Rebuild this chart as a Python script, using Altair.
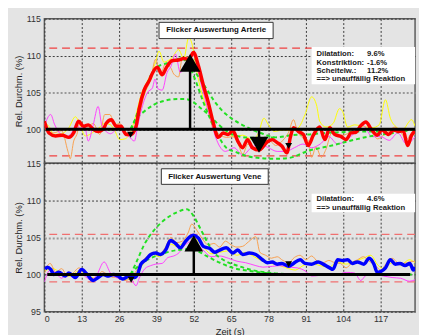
import altair as alt
import pandas as pd

FONT = "Liberation Sans"
BG = "#e4e4e4"

x_ticks = [0, 13, 26, 39, 52, 65, 78, 91, 104, 117]
x_domain = [0, 129]
top_y_domain = [95.4, 115]
top_y_ticks = [100, 105, 110, 115]
bot_y_domain = [95, 115]
bot_y_ticks = [95, 100, 105, 110, 115]

# ---------------- top panel (Arterie) ----------------
top_red = [(0, 101.1), (1.6, 99.5), (3.9, 99.1), (6.2, 99.2), (8.5, 98.9), (10.2, 99.5), (11.9, 101.1),
           (13.6, 100.4), (15.3, 100.6), (17, 100.0), (18.7, 99.7), (20.5, 100.0), (21.5, 100.8),
           (23.3, 101.3), (25, 100.4), (26.7, 100.4), (28.4, 99.3), (30.2, 99.3), (31.9, 100.4),
           (33, 102.8), (34.7, 105.3), (36.5, 106.6), (37.6, 107.6), (39.3, 108.4), (41, 107.4),
           (42.5, 108.4), (44.4, 109.3), (46.7, 109.4), (48.5, 109.6), (50.2, 109.5), (51.9, 110.4),
           (53.6, 108.6), (55.3, 106.0), (57, 103.7), (58.7, 101.0), (60.5, 98.9), (62.2, 99.5),
           (63.9, 99.3), (65.6, 99.8), (67.3, 98.4), (69, 97.5), (70.7, 98.6), (72.4, 97.5),
           (74.7, 97.2), (77.6, 98.3), (79.3, 98.6), (81, 98.2), (82.7, 97.7), (84.4, 96.8),
           (85.6, 98.9), (86.7, 100.2), (88.4, 99.7), (90.1, 99.3), (91.8, 97.8), (93.6, 99.2),
           (95.8, 100.3), (97.6, 98.6), (99.3, 100.2), (101, 99.3), (103.3, 99.0), (105, 98.6),
           (106.7, 99.5), (108.4, 99.6), (110.1, 100.5), (111.9, 101.0), (113.6, 100.1),
           (115.8, 99.2), (117.5, 99.9), (119.8, 99.3), (121.5, 99.9), (123.3, 99.7), (124.9, 99.8),
           (126.4, 97.8), (127.8, 99.2), (129, 99.8)]

top_yellow = [(0, 100.8), (1.6, 100.4), (3.3, 99.3), (6, 99.4), (8.5, 100.2), (10.8, 101.7), (12.5, 100.5),
              (14.2, 99.1), (17, 99.6), (19, 100.2), (21, 100.8), (23, 100.6), (24.5, 99.8), (26.2, 98.6),
              (28, 98.7), (30, 99.6), (31.9, 102), (33.6, 104.6), (35.5, 106.3), (37.6, 107.9),
              (38.7, 109.1), (39.9, 110.6), (41.6, 109.1), (43, 109.3), (44.4, 109.7), (46.7, 110.8),
              (48.5, 109.6), (50.2, 112.4), (51.3, 111.7), (53, 107.9), (54.7, 105), (57, 102.4),
              (58.7, 100), (60.5, 98.9), (63, 99.6), (66, 99.0), (69, 99.2), (72.4, 98.6), (74.5, 99.5),
              (76.4, 101.5), (78, 100.6), (80, 99.7), (83, 99.9), (86, 99.8), (88.4, 100.2), (90.7, 102),
              (93, 104.4), (94.7, 103.3), (95.8, 101.1), (98, 100.3), (100.5, 100.8), (102.7, 102.8),
              (103.8, 102.4), (105.5, 100.3), (108, 100.6), (111, 100.4), (114, 100.2), (116.5, 100.6),
              (118.7, 104), (120.4, 101.5), (122.5, 100.3), (124.5, 99.9), (127.8, 101.3), (129, 100.4)]

top_orange = [(0, 100.5), (3, 99.5), (6, 99.8), (8.2, 97), (9, 96), (10.2, 98.4), (11.3, 99.3), (12.5, 101.1),
              (14.5, 100.1), (17, 100.8), (19.3, 99.3), (21, 102), (22.8, 102), (24.5, 100.6), (26.2, 100.8),
              (28, 99.8), (30.2, 99.3), (32.5, 101), (34.7, 104.6), (37, 106.8), (38.7, 109.5), (40.4, 107.3),
              (42, 108.8), (43.9, 108.4), (45, 107.5), (46.7, 107.1), (47.9, 109.5), (49.5, 109.8),
              (51.5, 109.5), (53.5, 107.8), (55.9, 104.4), (57.5, 103), (59, 100.5), (61, 99.3),
              (63.5, 98.9), (65.5, 99), (67.3, 98.2), (69, 96.6), (70.8, 98), (73, 97.5), (75.5, 97.8),
              (78, 98.6), (80.5, 97.8), (83, 98.5), (85, 99.6), (86.7, 101.3), (88, 99.8), (90, 98.8),
              (91.8, 98.5), (93, 96.2), (94.5, 97.6), (96.4, 96.2), (98, 97.3), (100, 99.5), (102, 99.3),
              (104, 99.2), (106, 99.5), (108, 99.7), (110, 100.5), (112, 100.9), (114, 99.6), (116, 98.7),
              (118, 99.2), (120, 99.8), (122, 100.3), (124, 99.6), (126, 98.6), (128, 99.5), (129, 99.2)]

top_magenta = [(0, 100.5), (2.2, 102), (3.5, 100.7), (5.5, 99.4), (7.5, 99), (9.5, 99.5), (11, 100.6),
               (12.5, 100.2), (14, 100.4), (15.3, 98.4), (17, 100.6), (18.7, 103.1), (20, 100.5),
               (21.5, 99.7), (23, 99.4), (24.5, 99.8), (26, 100.3), (27.5, 99.5), (29.5, 99), (31.3, 98.4),
               (32.5, 100.5), (33.6, 102.4), (35.9, 105), (37.6, 105.6), (38.5, 106.8), (39.5, 105.5),
               (41, 105.3), (42.7, 107.7), (44, 108.5), (45.6, 110.2), (47.3, 107.7), (49, 108.5),
               (50.5, 109.7), (52, 110), (54, 107), (56, 104), (58, 101), (60, 98.5), (63, 97), (66, 97.5),
               (69, 96.5), (72, 97.5), (75, 98), (78, 97.5), (81, 97), (84, 97), (87, 97.5), (90, 98),
               (93, 97.5), (96, 98), (99, 99), (102, 98), (105, 98.5), (108, 99.5), (111, 100.5), (114, 99),
               (117, 99), (120, 98.5), (123, 99.5), (126, 98), (129, 99)]

top_green_a = [(30, 100), (30.7, 100.4), (32.5, 102.4), (34.7, 105), (37, 107.3), (39.9, 108.6), (42.2, 108.9),
               (44, 109.2), (46.2, 109.5), (48, 109.6), (49.8, 109.2), (51.3, 107.9), (53, 106.2),
               (55.3, 103.7), (57.6, 101.5), (60.5, 99.1), (63.3, 97.5), (66.7, 96.9), (70.2, 96.4),
               (75, 96.1), (80, 96.0), (85, 96.1), (92, 97.1), (99, 97.7), (106, 98.4), (114, 99.1),
               (121.5, 99.5), (129, 100)]
top_green_b = [(48, 109.6), (50, 109.0), (52, 108.0), (54, 106.9), (56.4, 105.5), (59, 103.9), (62.2, 102.4),
               (65, 101.5), (67.9, 100.8), (72, 100.0), (76, 99.4), (80.4, 98.9), (86.2, 99.2), (91.8, 99.3),
               (97.6, 99.5), (103.3, 99.6), (109, 99.7), (114.8, 99.7), (120.5, 99.8), (129, 100)]
top_green_c = [(30, 100), (31.3, 101.1), (34.7, 102.4), (38, 103.3), (42.2, 103.9), (46.2, 104.1), (49, 104.1),
               (51.3, 103.8), (54, 103.0), (57.6, 101.8), (61, 100.5), (64, 99.6), (67, 99.1), (72, 98.85),
               (80.4, 98.9)]

top_limits = [111.0, 96.4]
top_baseline = [(0.5, 129, 100)]
top_shafts = [(50.7, 100, 108.2), (74.7, 100, 98.3)]
top_tris = [(50.7, 109.0, "triangle-up", 441), (74.7, 97.9, "triangle-down", 361),
            (30.0, 99.25, "triangle-down", 49), (85.0, 97.75, "triangle-down", 49)]
top_title = "Flicker Auswertung Arterie"
top_title_box = (39.9, 79.6, 112.3, 114.5)
top_title_pos = (59.8, 113.4)
top_info_labels = ["Dilatation:", "Konstriktion:", "Scheitelw.:", "==> unauffällig Reaktion"]
top_info_values = ["9.6%", "-1.6%", "11.2%", ""]
top_info_y = [110.15, 109.0, 107.95, 106.85]
top_info_box = (93.0, 129, 106.1, 111.15)

# ---------------- bottom panel (Vene) ----------------
bot_blue = [(0.3, 100.7), (1, 101), (2.2, 100.7), (3.3, 100), (5, 100.3), (7.3, 99.8), (8.5, 100.2), (10.8, 99.6),
            (13, 100.7), (14.7, 100.1), (17, 99.2), (18.7, 99.6), (20.5, 100), (22.3, 99.8), (24, 100),
            (25.6, 99.8), (27.3, 99.4), (29.5, 99.8), (31.3, 99.6), (32.4, 100), (33.6, 101.4), (35.3, 102),
            (37, 102.7), (38.7, 102.9), (40.4, 102.7), (42.2, 103.3), (43.9, 104.6), (45.6, 104.2),
            (47.3, 103.6), (49, 104.4), (50.7, 105.1), (51.9, 105.3), (53.6, 104.9), (55.3, 103.8),
            (57.6, 103.5), (59.3, 103.0), (61, 103.3), (63.3, 103.6), (65.6, 102.9), (67.3, 103.3),
            (69, 102.7), (71.3, 102.9), (73.6, 102.7), (75.9, 102), (77.6, 101.6), (79.3, 101.7),
            (81, 101.4), (82.7, 101.5), (85, 101.1), (86.7, 101.5), (89, 102), (90.7, 101.5), (93, 101.4),
            (95.3, 101.7), (97, 101.4), (99.3, 100.9), (100.4, 100.7), (102.1, 102), (103.8, 101.9),
            (105.5, 102), (107.2, 101.5), (108.9, 101.7), (111.2, 101.4), (113, 102.2), (114.7, 101.4),
            (115.8, 100.3), (117, 100.4), (118.7, 100.9), (120.4, 102), (122.1, 101.4), (123.8, 101.5),
            (125.5, 101.2), (127.2, 101.5), (128.4, 100.6), (129, 101)]

bot_orange = [(0, 100.2), (2, 101.5), (4, 100.3), (6, 100.8), (8, 99.8), (10, 100.2), (12, 100.9), (14, 100.3),
              (16, 99.6), (18, 99.4), (20, 100.4), (22, 100), (24, 99.6), (26, 99.8), (28, 99.2), (30, 99.5),
              (32, 100.5), (34, 101.8), (36, 102.5), (38, 103), (40, 102.8), (42, 103.6), (44, 105), (46, 104.3),
              (48, 104.5), (50, 105.6), (51.3, 106.8), (53, 106), (55, 104.8), (57, 104), (59, 104.2),
              (61, 103.7), (63, 104.5), (65, 104), (67, 103.7), (69, 103.8), (71, 104.4), (73.6, 105.1),
              (75, 103), (77, 102.6), (79, 102.2), (81, 102.4), (83, 101.9), (85, 101.6), (87, 102.3),
              (89, 102.6), (91, 102), (93, 102.5), (95, 101.8), (97, 101.6), (99, 101.9), (101, 101.6),
              (103, 101.5), (105, 100.9), (107, 101.6), (109, 102), (111, 102.4), (113, 101.8), (115, 101.3),
              (117, 100.6), (119, 101.5), (121, 102.2), (123, 101.6), (125, 101.5), (127, 101.7), (129, 101.8)]

bot_yellow = [(0, 100.5), (3, 100.8), (6, 100.1), (9, 99.8), (12, 100.5), (15, 99.9), (18, 99.5), (21, 100.1),
              (24, 99.8), (27, 99.5), (30, 99.4), (32, 100), (34, 101.2), (36, 102.2), (38, 102.7), (40, 102.4),
              (42, 103), (44, 104.1), (46, 103.8), (48, 104.2), (50, 104.8), (52, 105), (54, 104.2), (56, 103.4),
              (58, 102.8), (61, 103), (64, 103.2), (67, 102.6), (70, 103), (73, 102.4), (76, 101.8), (79, 101.5),
              (82, 101.2), (85, 100.8), (87.3, 100.6), (90, 101.2), (93, 101.5), (96, 101.2), (99, 101),
              (102, 101.7), (105, 101.4), (108, 101.8), (111, 102.2), (113.6, 102.6), (116, 101.3),
              (118, 100.8), (121, 101.6), (124, 101.3), (127, 102), (129, 101.6)]

bot_magenta = [(0, 99), (2, 100.6), (4, 100.2), (6, 99.5), (8, 100.2), (10, 99.6), (12, 100.4), (14, 99.8),
               (16, 99.3), (18, 99.8), (20.8, 101.7), (23, 100.2), (25, 99.6), (27, 99.4), (29, 99.8),
               (30.5, 99.2), (31.9, 98.5), (33, 99.5), (35, 100.8), (37, 101.2), (38.7, 101.4), (41, 101.5),
               (43, 102.3), (45, 102.5), (47, 103), (48.5, 103.8), (50, 104.3), (52, 104.6), (54, 103.8),
               (56, 103), (58, 102.4), (61, 102.5), (64, 102.2), (67, 101.8), (70, 101.6), (73.6, 101.2),
               (76, 101), (79.3, 101.1), (82, 101.2), (85, 101), (88, 100.9), (90.7, 100.5), (93, 99.8),
               (96, 99.9), (99, 100.1), (102, 100), (105, 100.3), (108, 100.2), (110.1, 99.2), (112, 99.9),
               (115, 100), (118, 99.8), (121, 99.6), (124, 99.5), (127, 99.1), (129, 99.3)]

bot_green_a = [(30, 100), (32.4, 102), (34.7, 104), (38.2, 106), (41.6, 107.3), (46.2, 108.4), (49.6, 108.8),
               (51.9, 107.9), (54, 106.4), (56.4, 104.6), (58.7, 103.1), (62.2, 102), (67.9, 101.1),
               (73.6, 100.5), (79.3, 100.2), (85, 100.05)]
bot_green_b = [(30, 100), (32, 100.9), (35.9, 102), (40.4, 102.7), (46.2, 103.3), (49.6, 103.4), (53, 103.2),
               (56.4, 102.5), (61, 101.6), (65.6, 100.9), (71.3, 100.5), (77, 100.2), (82.7, 100.05),
               (100, 100), (129, 100)]

bot_limits = [105.4, 99.0]
bot_baseline = [(1.0, 127.3, 100)]
bot_shafts = [(52.0, 100, 103.6)]
bot_tris = [(52.0, 104.2, "triangle-up", 361), (30.2, 99.3, "triangle-down", 49),
            (85.0, 101.4, "triangle-down", 49)]
bot_title = "Flicker Auswertung Vene"
bot_title_box = (40.7, 77.9, 112.15, 114.25)
bot_title_pos = (59.3, 113.2)
bot_info_labels = ["Dilatation:", "==> unauffällig Reaktion"]
bot_info_values = ["4.6%", ""]
bot_info_y = [110.15, 108.95]
bot_info_box = (93.0, 129, 108.4, 110.9)

info_label_x = 94.7
info_value_x = 112.3


def pts(pairs):
    return pd.DataFrame(pairs, columns=["x", "y"])


def panel(ydom, yticks, height, bottom, thin, greens, main, main_color, limits, limit_color,
          baseline, shafts, tris, title, title_box, title_pos, info_labels, info_values, info_y, info_box):
    xs = alt.Scale(domain=x_domain, nice=False, zero=False)
    ys = alt.Scale(domain=ydom, nice=False, zero=False)
    if bottom:
        xa = alt.Axis(values=x_ticks, title="Zeit (s)", grid=True, labelPadding=3, titlePadding=3)
    else:
        xa = alt.Axis(values=x_ticks, title=None, labels=False, grid=True)
    ya = alt.Axis(values=yticks, title="Rel. Durchm. (%)", grid=True, titlePadding=2,
                  gridColor={"condition": {"test": "datum.value === 105", "value": "#9a9a9a"},
                             "value": "#3a3a3a"},
                  gridWidth={"condition": {"test": "datum.value === 105", "value": 2}, "value": 1})

    def X(f="x"):
        return alt.X(f"{f}:Q", scale=xs, axis=xa)

    def Y(f="y"):
        return alt.Y(f"{f}:Q", scale=ys, axis=ya)

    layers = []
    layers.append(alt.Chart(pd.DataFrame({"y": limits})).mark_rule(
        color=limit_color, strokeDash=[8, 5], strokeWidth=1.3).encode(y=Y()))
    for pairs, col in thin:
        layers.append(alt.Chart(pts(pairs)).mark_line(
            color=col, strokeWidth=1, interpolate="monotone", clip=True).encode(x=X(), y=Y()))
    for pairs in greens:
        layers.append(alt.Chart(pts(pairs)).mark_line(
            color="#22e022", strokeWidth=2, strokeDash=[4, 3], interpolate="monotone",
            clip=True).encode(x=X(), y=Y()))
    layers.append(alt.Chart(pts(main)).mark_line(
        color=main_color, strokeWidth=3.5, interpolate="monotone", clip=True).encode(x=X(), y=Y()))
    layers.append(alt.Chart(pd.DataFrame(baseline, columns=["x", "x2", "y"])).mark_rule(
        color="black", strokeWidth=3).encode(x=X(), x2="x2:Q", y=Y()))
    layers.append(alt.Chart(pd.DataFrame(shafts, columns=["x", "y", "y2"])).mark_rule(
        color="black", strokeWidth=2.5).encode(x=X(), y=Y(), y2="y2:Q"))
    layers.append(alt.Chart(pd.DataFrame(tris, columns=["x", "y", "shape", "size"])).mark_point(
        filled=True, opacity=1, color="black").encode(
        x=X(), y=Y(), shape=alt.Shape("shape:N", scale=None), size=alt.Size("size:Q", scale=None)))
    layers.append(alt.Chart(pd.DataFrame([title_box], columns=["x", "x2", "y", "y2"])).mark_rect(
        fill="white", stroke="#333333", strokeWidth=1).encode(x=X(), x2="x2:Q", y=Y(), y2="y2:Q"))
    layers.append(alt.Chart(pd.DataFrame([{"x": title_pos[0], "y": title_pos[1], "t": title}])).mark_text(
        font=FONT, fontSize=8, fontWeight="bold", color="#111111", align="center",
        baseline="middle").encode(x=X(), y=Y(), text="t:N"))
    layers.append(alt.Chart(pd.DataFrame([info_box], columns=["x", "x2", "y", "y2"])).mark_rect(
        fill="white", strokeWidth=0).encode(x=X(), x2="x2:Q", y=Y(), y2="y2:Q"))
    lab = pd.DataFrame({"x": [info_label_x] * len(info_labels), "y": info_y, "t": info_labels})
    val = pd.DataFrame({"x": [info_value_x] * len(info_values), "y": info_y, "t": info_values})
    for d in (lab, val):
        layers.append(alt.Chart(d).mark_text(
            font=FONT, fontSize=7.8, fontWeight="bold", color="#1a1a1a", align="left",
            baseline="middle").encode(x=X(), y=Y(), text="t:N"))
    return alt.layer(*layers).properties(width=377, height=height)


top = panel(top_y_domain, top_y_ticks, 147, False,
            [(top_yellow, "#ffff00"), (top_orange, "#f8a050"), (top_magenta, "#ff40ff")],
            [top_green_a, top_green_b, top_green_c], top_red, "#ff0000", top_limits, "#f04040",
            top_baseline, top_shafts, top_tris, top_title, top_title_box, top_title_pos,
            top_info_labels, top_info_values, top_info_y, top_info_box)

bottom = panel(bot_y_domain, bot_y_ticks, 151, True,
               [(bot_yellow, "#ffff00"), (bot_orange, "#f8a050"), (bot_magenta, "#ff40ff")],
               [bot_green_a, bot_green_b], bot_blue, "#0000ff", bot_limits, "#f07070",
               bot_baseline, bot_shafts, bot_tris, bot_title, bot_title_box, bot_title_pos,
               bot_info_labels, bot_info_values, bot_info_y, bot_info_box)

chart = alt.vconcat(top, bottom, spacing=0, bounds="flush",
                    background=BG,
                    padding={"top": 3, "left": 5, "right": 1, "bottom": 2}).configure_view(
    stroke="#5c5c5c", strokeWidth=1.5, fill=BG).configure_axis(
    labelFont=FONT, labelFontSize=9, labelColor="#333333", titleFont=FONT, titleFontSize=9.5,
    titleFontWeight="normal", titleColor="#222222", domain=False, ticks=False,
    gridDash=[2, 2], gridColor="#3a3a3a", labelPadding=4)

chart.save("out.html", embed_options={"renderer": "svg", "actions": False})
